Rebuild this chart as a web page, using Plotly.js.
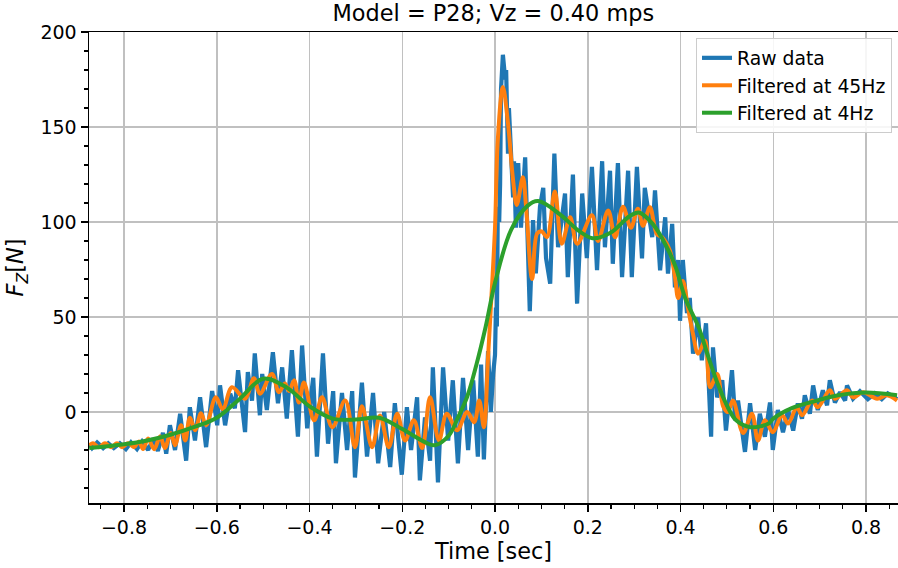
<!DOCTYPE html>
<html>
<head>
<meta charset="utf-8">
<script src="https://cdn.plot.ly/plotly-3.0.1.min.js"></script>
<style>html,body{margin:0;padding:0;background:#fff;}#chart{width:898px;height:568px;}</style>
</head>
<body>
<div id="chart"></div>
<script>
// ---- data (time in s, force in N) ----
const rawT = [-0.875,-0.869,-0.858,-0.845,-0.834,-0.822,-0.809,-0.796,-0.785,-0.772,-0.761,-0.748,-0.737,-0.727,-0.716,-0.709,-0.701,-0.690,-0.679,-0.666,-0.658,-0.647,-0.636,-0.623,-0.610,-0.599,-0.593,-0.582,-0.571,-0.561,-0.554,-0.539,-0.533,-0.524,-0.518,-0.507,-0.502,-0.492,-0.479,-0.468,-0.459,-0.449,-0.438,-0.425,-0.416,-0.405,-0.392,-0.384,-0.371,-0.360,-0.349,-0.343,-0.330,-0.319,-0.308,-0.302,-0.287,-0.276,-0.263,-0.252,-0.239,-0.226,-0.216,-0.201,-0.190,-0.181,-0.168,-0.162,-0.151,-0.140,-0.134,-0.123,-0.112,-0.101,-0.091,-0.080,-0.069,-0.058,-0.047,-0.037,-0.030,-0.024,-0.015,-0.009,-0.004,0.000,0.002,0.004,0.006,0.009,0.011,0.013,0.017,0.022,0.024,0.028,0.030,0.035,0.039,0.041,0.045,0.050,0.056,0.065,0.071,0.075,0.082,0.088,0.097,0.104,0.110,0.119,0.128,0.136,0.151,0.157,0.168,0.177,0.188,0.198,0.209,0.220,0.231,0.237,0.248,0.254,0.265,0.274,0.287,0.295,0.306,0.317,0.323,0.339,0.345,0.356,0.367,0.373,0.382,0.388,0.395,0.399,0.405,0.414,0.420,0.427,0.438,0.446,0.455,0.461,0.466,0.470,0.479,0.490,0.498,0.511,0.518,0.524,0.539,0.550,0.561,0.571,0.582,0.593,0.599,0.610,0.621,0.632,0.643,0.653,0.662,0.668,0.679,0.686,0.696,0.707,0.716,0.722,0.733,0.744,0.755,0.759,0.772,0.787,0.804,0.819,0.834,0.847,0.867];
const rawV = [-17,-19,-16,-19,-16.5,-19,-16.5,-19.5,-16,-19.5,-15.5,-20,-14,-20.5,-11,-22,-7,-20,-1,-25.6,2.5,-15,7.7,-18.5,11,-7,14,-7,9.6,1.9,22,-10.6,21,6,30.8,-1.7,20,1,31.4,4.6,23.5,-3.5,32.5,-13,35,-8.6,18,-23.5,30.8,-16.7,11,-27,10,-20,11,-34.5,15.5,-23.5,10,-27,0,-29,4.6,-33,2.5,-20,7.7,-36,-2.8,-25.6,23.5,-37,23.5,-15,16.7,-27,18,-20,16.7,-23.5,25,-25,32,0,20,30,55,45,108,100,120,170,188,175,180,136,160,134,113,132,97,131,97,134,73,53,101,73,108,118,81,67.5,136,86.7,115,71,125,57,115,81,129,74.6,132,86.7,127,78,131,71,127,71,129,80.8,118,92,116.7,74.6,102.5,72.8,99,65.6,80,48,80,52,60,30.7,49.8,27.2,46.7,11.4,-13,34,7.7,16.7,-9.8,22,-4.4,6,-21,4.6,-20,-0.9,-13,5,-20,1,-10.7,1,-9.8,4.5,-3.5,8.8,-0.9,14,1,11.4,3.5,16.7,5,10.4,6,14,7,10.9,6.7,9.8,6.7,9.8,6.7];

const f45T = [-0.875,-0.867,-0.854,-0.841,-0.828,-0.815,-0.804,-0.791,-0.778,-0.768,-0.759,-0.748,-0.735,-0.722,-0.712,-0.699,-0.690,-0.677,-0.668,-0.658,-0.647,-0.634,-0.623,-0.602,-0.587,-0.567,-0.539,-0.520,-0.507,-0.481,-0.466,-0.453,-0.444,-0.433,-0.423,-0.412,-0.390,-0.373,-0.351,-0.323,-0.302,-0.287,-0.265,-0.248,-0.229,-0.211,-0.194,-0.175,-0.157,-0.140,-0.121,-0.104,-0.082,-0.060,-0.045,-0.034,-0.024,-0.015,-0.009,0.000,0.006,0.017,0.028,0.039,0.047,0.060,0.067,0.080,0.091,0.101,0.112,0.129,0.144,0.162,0.177,0.209,0.222,0.244,0.259,0.276,0.293,0.308,0.319,0.334,0.349,0.360,0.377,0.388,0.395,0.405,0.416,0.427,0.438,0.453,0.464,0.479,0.492,0.502,0.513,0.535,0.554,0.567,0.582,0.599,0.619,0.632,0.651,0.662,0.684,0.696,0.722,0.733,0.759,0.772,0.794,0.824,0.845,0.867];
const f45V = [-17.5,-16.5,-18.5,-16.5,-18.5,-16.5,-18.5,-16.5,-18.5,-15.5,-19.5,-14,-19.6,-12.8,-19,-11,-17.5,-7,-15,-3,-9.6,-0.7,-7,7.7,1.5,13,7,17.7,9.6,20,10.4,15,11,16.7,5,15.5,-4.4,7.7,-8,6,-18.5,3,-18.5,-1.8,-18.5,-0.9,-15,-4.4,-19,7.7,-15,-0.9,-9.6,0,-5.4,6,-8,29,55,97,143,171,152,122,109,123.6,108,70,94,95,92,116,88.6,102.5,88.6,103.5,90,106,92,108,97,107,98,107.7,93.6,92,85,71,60,69,55,41,30.7,37.5,13,20,3,0,6,-11,-0.9,-15,-4.4,-10.6,-1.7,-6,2.5,-1.7,6,2.5,11.4,7,11.4,7.7,10.4,7,8.8,6];

const f4T = [-0.875,-0.8,-0.75,-0.7,-0.65,-0.6,-0.55,-0.5,-0.45,-0.4,-0.35,-0.3,-0.25,-0.2,-0.15,-0.13,-0.1,-0.08,-0.06,-0.04,-0.02,0.0,0.035,0.07,0.093,0.14,0.18,0.21,0.25,0.29,0.31,0.34,0.37,0.39,0.41,0.44,0.46,0.48,0.5,0.52,0.55,0.59,0.6,0.64,0.69,0.74,0.8,0.867];
const f4V = [-19,-17,-15,-12,-8,-3,7,17.5,13,3,-3.5,-4,-3,-9,-16,-17.5,-12.5,-3,8,25,45,68,96,108.5,111,104,95.5,91.5,94.5,103,105,99,87,76,60,44,29,15,3.5,-4.4,-8,-6,-3.5,2,5.7,8.8,10.3,8.8];

const seriesNames = ['Raw data','Filtered at 45Hz','Filtered at 4Hz'];
const seriesColors = ['#1f77b4','#ff7f0e','#2ca02c'];
const xTickVals = [-0.8,-0.6,-0.4,-0.2,0.0,0.2,0.4,0.6,0.8];
const xTickText = ['\u22120.8','\u22120.6','\u22120.4','\u22120.2','0.0','0.2','0.4','0.6','0.8'];
const yTickVals = [0,50,100,150,200];
const yTickText = ['0','50','100','150','200'];

const font = 'DejaVu Sans, sans-serif';
const traces = [
  {x: rawT, y: rawV, name: seriesNames[0], mode: 'lines',
   line: {color: seriesColors[0], width: 4.2}},
  {x: f45T, y: f45V, name: seriesNames[1], mode: 'lines',
   line: {color: seriesColors[1], width: 4, shape: 'spline', smoothing: 1}},
  {x: f4T, y: f4V, name: seriesNames[2], mode: 'lines',
   line: {color: seriesColors[2], width: 4, shape: 'spline', smoothing: 1}}
];

const axisCommon = {
  showline: true, linecolor: '#000', linewidth: 1.5, mirror: true,
  ticks: 'outside', ticklen: 7, tickwidth: 1.5, tickcolor: '#000',
  showgrid: true, gridcolor: '#c0c0c0', gridwidth: 1.5, zeroline: false,
  tickfont: {family: font, size: 19, color: '#000'}
};

const layout = {
  width: 898, height: 568,
  margin: {l: 89, r: 0, t: 32, b: 65},
  paper_bgcolor: '#fff', plot_bgcolor: '#fff',
  font: {family: font, color: '#000'},
  title: {text: 'Model = P28; Vz = 0.40 mps', font: {family: font, size: 22.4, color: '#000'},
          x: 0.5494, xanchor: 'center', y: 0.977, yanchor: 'middle'},
  xaxis: Object.assign({}, axisCommon, {
    range: [-0.8755, 0.869], tickmode: 'array', tickvals: xTickVals, ticktext: xTickText,
    minor: {dtick: 0.05, tick0: 0, ticks: 'outside', ticklen: 4, tickwidth: 1.2, tickcolor: '#000', showgrid: false},
    title: {text: 'Time [sec]', font: {family: font, size: 22.4, color: '#000'}, standoff: 4}
  }),
  yaxis: Object.assign({}, axisCommon, {
    range: [-47.9, 200], tickmode: 'array', tickvals: yTickVals, ticktext: yTickText,
    minor: {dtick: 10, tick0: 0, ticks: 'outside', ticklen: 4, tickwidth: 1.2, tickcolor: '#000', showgrid: false},
    title: {text: '<i>F<sub>Z</sub></i>[<i>N</i>]', font: {family: font, size: 22.4, color: '#000'}, standoff: 10}
  }),
  showlegend: true,
  legend: {x: 0.9926, xanchor: 'right', y: 0.987, yanchor: 'top',
           bgcolor: 'rgba(255,255,255,0.85)', bordercolor: '#cccccc', borderwidth: 1,
           font: {family: font, size: 18.8, color: '#000'},
           traceorder: 'normal'}
};

Plotly.newPlot('chart', traces, layout, {displayModeBar: false, staticPlot: true});
</script>
</body>
</html>
